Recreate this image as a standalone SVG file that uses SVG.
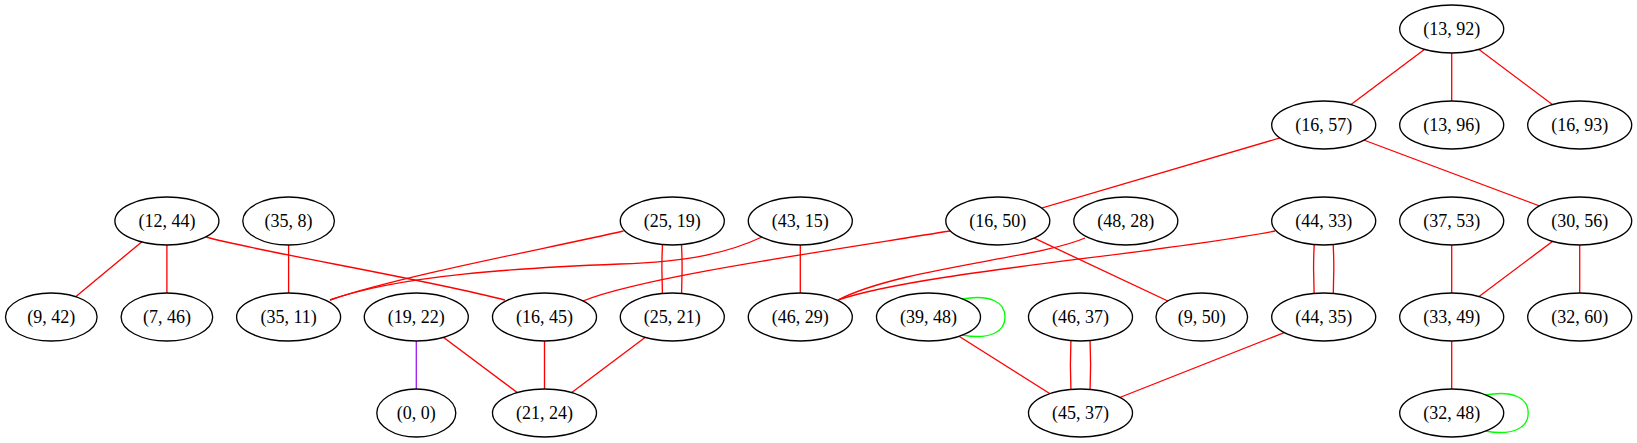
<svg xmlns="http://www.w3.org/2000/svg" width="1637" height="443" viewBox="0 0 1637 443">
<style>
.n ellipse{fill:#ffffff;stroke:#000000;stroke-width:1.33}
.n text{font-family:"Liberation Serif","Times New Roman",serif;font-size:18px;fill:#000000;text-anchor:middle}
.e path,.e line{fill:none;stroke:#ff0000;stroke-width:1.33}
.e .g{stroke:#00ff00}
.e .p{stroke:#a020f0}
</style>
<rect width="1637" height="443" fill="#ffffff"/>
<g id="connectors" class="e">
<line x1="1451.7" y1="29" x2="1323.7" y2="125"/>
<line x1="1451.7" y1="29" x2="1451.7" y2="125"/>
<line x1="1451.7" y1="29" x2="1579.7" y2="125"/>
<line x1="1323.7" y1="125" x2="997.8" y2="221"/>
<line x1="1323.7" y1="125" x2="1579.7" y2="221"/>
<line x1="166.9" y1="221" x2="51.3" y2="317"/>
<line x1="166.9" y1="221" x2="166.9" y2="317"/>
<path d="M206,237 C260,252 420,278 505,300"/>
<line x1="288.6" y1="221" x2="288.6" y2="317"/>
<path d="M623.5,231 C540,250 400,276 330,300"/>
<path d="M664,221 C661,255 661,283 664,317"/>
<path d="M680,221 C683,255 683,283 680,317"/>
<path d="M762,237 C730,252 690,262 620,264 C520,268 400,275 330,300"/>
<line x1="800.3" y1="221" x2="800.3" y2="317"/>
<path d="M950,231 C800,255 640,278 583,301"/>
<line x1="997.8" y1="221" x2="1201.8" y2="317"/>
<path d="M1085,238 C1040,258 900,268 838,300"/>
<path d="M1275,231 C1150,255 920,272 838,300"/>
<path d="M1315.7,221 C1312.7,255 1312.7,283 1315.7,317"/>
<path d="M1331.7,221 C1334.7,255 1334.7,283 1331.7,317"/>
<line x1="1451.7" y1="221" x2="1451.7" y2="317"/>
<line x1="1579.7" y1="221" x2="1451.7" y2="317"/>
<line x1="1579.7" y1="221" x2="1579.7" y2="317"/>
<line class="p" x1="416.3" y1="317" x2="416.3" y2="413"/>
<line x1="416.3" y1="317" x2="544.5" y2="413"/>
<line x1="544.5" y1="317" x2="544.5" y2="413"/>
<line x1="672.3" y1="317" x2="544.5" y2="413"/>
<path class="g" d="M962,299 C990,294 1005,302 1005,317 C1005,332 990,340 962,335"/>
<line x1="928.5" y1="317" x2="1080.5" y2="413"/>
<path d="M1072.5,317 C1069.5,351 1069.5,379 1072.5,413"/>
<path d="M1088.5,317 C1091.5,351 1091.5,379 1088.5,413"/>
<line x1="1323.7" y1="317" x2="1080.5" y2="413"/>
<line x1="1451.7" y1="317" x2="1451.7" y2="413"/>
<path class="g" d="M1485.2,395 C1513.2,390 1528.2,398 1528.2,413 C1528.2,428 1513.2,436 1485.2,431"/>
</g>
<g id="n1" class="n"><ellipse cx="1451.7" cy="29" rx="52" ry="24"/><text x="1451.7" y="35">(13, 92)</text></g>
<g id="n2" class="n"><ellipse cx="1323.7" cy="125" rx="52" ry="24"/><text x="1323.7" y="131">(16, 57)</text></g>
<g id="n3" class="n"><ellipse cx="1451.7" cy="125" rx="52" ry="24"/><text x="1451.7" y="131">(13, 96)</text></g>
<g id="n4" class="n"><ellipse cx="1579.7" cy="125" rx="52" ry="24"/><text x="1579.7" y="131">(16, 93)</text></g>
<g id="n5" class="n"><ellipse cx="166.9" cy="221" rx="52" ry="24"/><text x="166.9" y="227">(12, 44)</text></g>
<g id="n6" class="n"><ellipse cx="288.6" cy="221" rx="45.8" ry="24"/><text x="288.6" y="227">(35, 8)</text></g>
<g id="n7" class="n"><ellipse cx="672.3" cy="221" rx="52" ry="24"/><text x="672.3" y="227">(25, 19)</text></g>
<g id="n8" class="n"><ellipse cx="800.3" cy="221" rx="52" ry="24"/><text x="800.3" y="227">(43, 15)</text></g>
<g id="n9" class="n"><ellipse cx="997.8" cy="221" rx="52" ry="24"/><text x="997.8" y="227">(16, 50)</text></g>
<g id="n10" class="n"><ellipse cx="1125.8" cy="221" rx="52" ry="24"/><text x="1125.8" y="227">(48, 28)</text></g>
<g id="n11" class="n"><ellipse cx="1323.7" cy="221" rx="52" ry="24"/><text x="1323.7" y="227">(44, 33)</text></g>
<g id="n12" class="n"><ellipse cx="1451.7" cy="221" rx="52" ry="24"/><text x="1451.7" y="227">(37, 53)</text></g>
<g id="n13" class="n"><ellipse cx="1579.7" cy="221" rx="52" ry="24"/><text x="1579.7" y="227">(30, 56)</text></g>
<g id="n14" class="n"><ellipse cx="51.3" cy="317" rx="45.8" ry="24"/><text x="51.3" y="323">(9, 42)</text></g>
<g id="n15" class="n"><ellipse cx="166.9" cy="317" rx="45.8" ry="24"/><text x="166.9" y="323">(7, 46)</text></g>
<g id="n16" class="n"><ellipse cx="288.6" cy="317" rx="52" ry="24"/><text x="288.6" y="323">(35, 11)</text></g>
<g id="n17" class="n"><ellipse cx="416.3" cy="317" rx="52" ry="24"/><text x="416.3" y="323">(19, 22)</text></g>
<g id="n18" class="n"><ellipse cx="544.5" cy="317" rx="52" ry="24"/><text x="544.5" y="323">(16, 45)</text></g>
<g id="n19" class="n"><ellipse cx="672.3" cy="317" rx="52" ry="24"/><text x="672.3" y="323">(25, 21)</text></g>
<g id="n20" class="n"><ellipse cx="800.3" cy="317" rx="52" ry="24"/><text x="800.3" y="323">(46, 29)</text></g>
<g id="n21" class="n"><ellipse cx="928.5" cy="317" rx="52" ry="24"/><text x="928.5" y="323">(39, 48)</text></g>
<g id="n22" class="n"><ellipse cx="1080.5" cy="317" rx="52" ry="24"/><text x="1080.5" y="323">(46, 37)</text></g>
<g id="n23" class="n"><ellipse cx="1201.8" cy="317" rx="45.8" ry="24"/><text x="1201.8" y="323">(9, 50)</text></g>
<g id="n24" class="n"><ellipse cx="1323.7" cy="317" rx="52" ry="24"/><text x="1323.7" y="323">(44, 35)</text></g>
<g id="n25" class="n"><ellipse cx="1451.7" cy="317" rx="52" ry="24"/><text x="1451.7" y="323">(33, 49)</text></g>
<g id="n26" class="n"><ellipse cx="1579.7" cy="317" rx="52" ry="24"/><text x="1579.7" y="323">(32, 60)</text></g>
<g id="n27" class="n"><ellipse cx="416.3" cy="413" rx="39.5" ry="24"/><text x="416.3" y="419">(0, 0)</text></g>
<g id="n28" class="n"><ellipse cx="544.5" cy="413" rx="52" ry="24"/><text x="544.5" y="419">(21, 24)</text></g>
<g id="n29" class="n"><ellipse cx="1080.5" cy="413" rx="52" ry="24"/><text x="1080.5" y="419">(45, 37)</text></g>
<g id="n30" class="n"><ellipse cx="1451.7" cy="413" rx="52" ry="24"/><text x="1451.7" y="419">(32, 48)</text></g>
</svg>
